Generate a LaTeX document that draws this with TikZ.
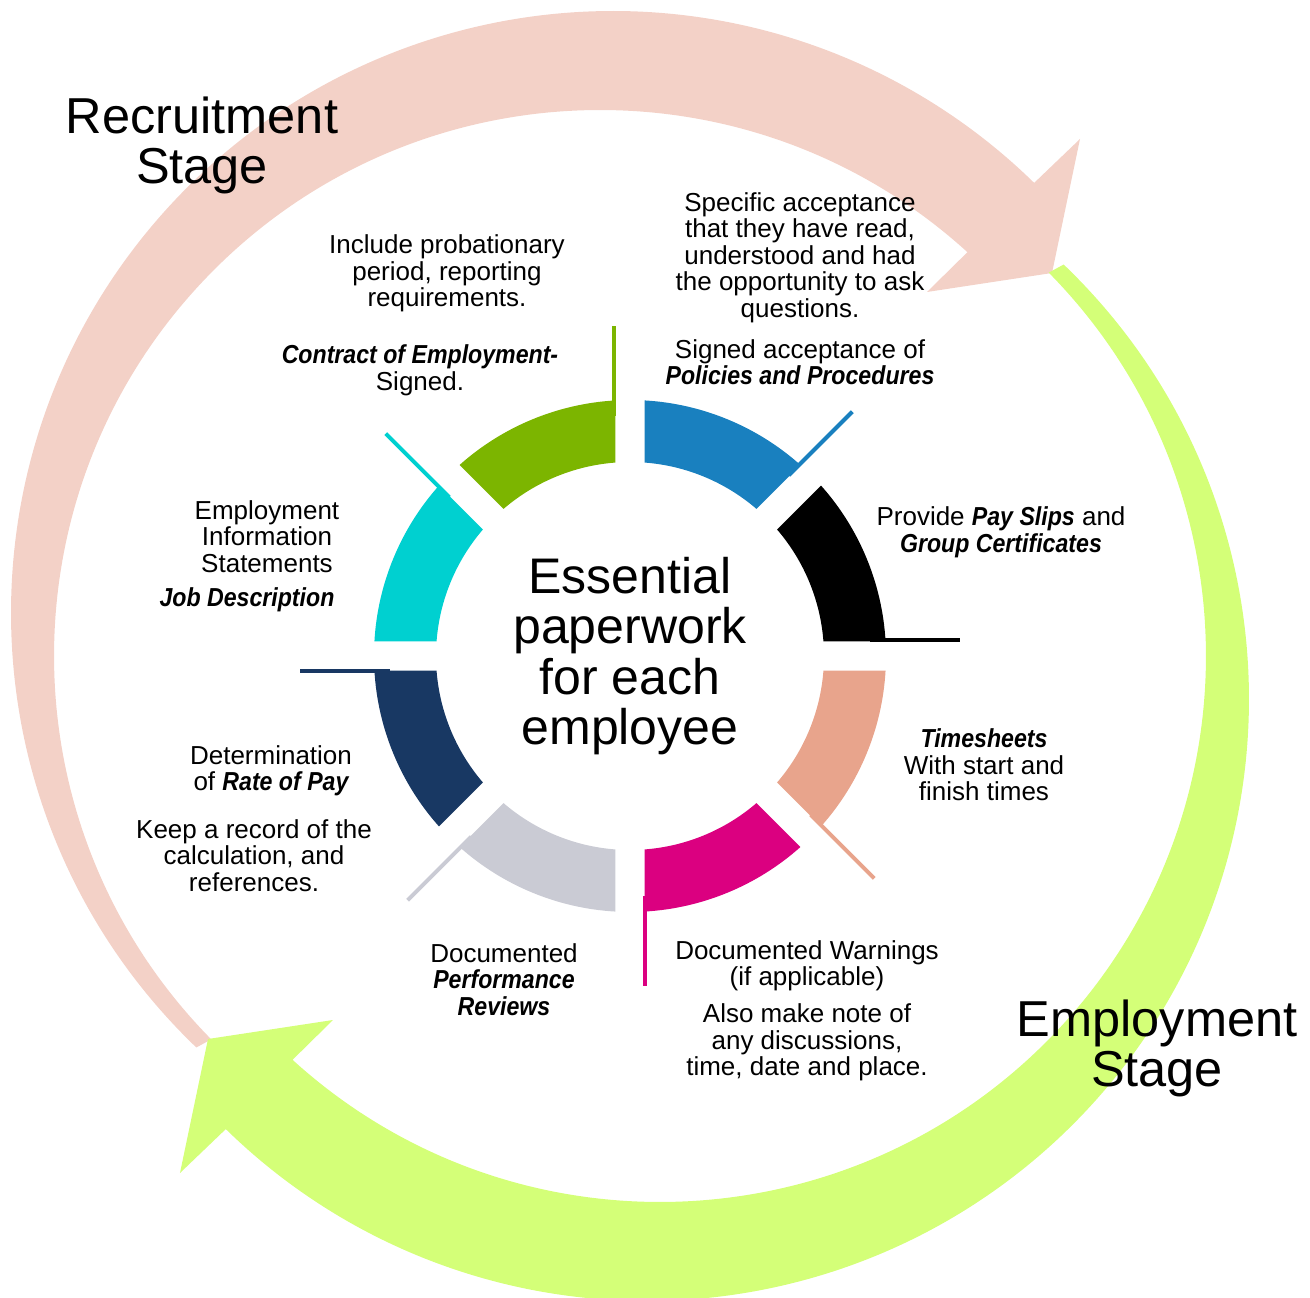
\documentclass[tikz,border=0pt]{standalone}
\usepackage{fontspec}
\setmainfont{Liberation Sans}
\newfontfamily\keyfont[FakeStretch=0.89]{Liberation Sans}
\newcommand\keyterm[1]{{\keyfont\bfseries\itshape #1}}
\usetikzlibrary{calc}
\definecolor{recband}{RGB}{243,209,199}
\definecolor{empband}{RGB}{212,255,120}
\definecolor{paysl}{RGB}{0,0,0}
\definecolor{polic}{RGB}{25,128,191}
\definecolor{contr}{RGB}{124,181,0}
\definecolor{jobd}{RGB}{0,208,208}
\definecolor{ratep}{RGB}{24,56,99}
\definecolor{perfr}{RGB}{202,203,212}
\definecolor{warns}{RGB}{219,0,128}
\definecolor{times}{RGB}{232,164,140}

\begin{document}
\begin{tikzpicture}[x=1pt, y=1pt,
       note/.style = {align=center, inner sep=0pt, font=\fontsize{26}{26.5}\selectfont},
      stage/.style = {align=center, inner sep=0pt, font=\fontsize{50.5}{50}\selectfont},
   tickline/.style = {line width=4pt}
                    ]
\clip (-630,-642) rectangle (680,656);
% stage arrows
\foreach \r/\c in {0/recband, 180/empband}{
  \begin{scope}[rotate=\r]
  \fill[\c] ($(-17,43)+(226.2:602)$) arc[start angle=226.2, end angle=45.6, radius=602]
     -- (450,517) -- (422,383) -- (297,364)
     -- ($(-30,0)+(47.7:546)$) arc[start angle=47.7, end angle=224.6, radius=546] -- cycle;
  \end{scope}
}
% ring of segments
\foreach \a/\c in {0/paysl, 45/polic, 90/contr, 135/jobd, 180/ratep, 225/perfr, 270/warns, 315/times}{
  \fill[\c] (\a+3.25:256) arc[start angle=\a+3.25, end angle=\a+41.75, radius=256]
     -- (\a+40.7:194) arc[start angle=\a+40.7, end angle=\a+4.3, radius=194] -- cycle;
  \draw[tickline, \c] ($(\a:240)+(\a+90:15.5)$) -- ($(\a:330)+(\a+90:15.5)$);
}
\node (essential) [align=center, inner sep=0pt, font=\fontsize{50}{50.5}\selectfont] at (0,0) {Essential\\paperwork\\for each\\employee};
\node (recstage) [stage] at (-428,511) {Recruitment\\Stage};
\node (empstage) [stage] at (527,-392) {Employment\\Stage};
\node (incl)     [note] at (-183,382.5) {Include probationary\\period, reporting\\requirements.};
\node (contract) [note] at (-210,285.5) {\keyterm{Contract of Employment-}\\Signed.};
\node (specific) [note] at (170,398.5) {Specific acceptance\\that they have read,\\understood and had\\the opportunity to ask\\questions.};
\node (policies) [note] at (170,294) {Signed acceptance of\\\keyterm{Policies and Procedures}};
\node (payslips) [note] at (371,123.5) {Provide \keyterm{Pay Slips} and\\\keyterm{Group Certificates}};
\node (timesh)   [note] at (354,-109) {\keyterm{Timesheets}\\With start and\\finish times};
\node (warnings) [note] at (177,-310) {Documented Warnings\\(if applicable)};
\node (notes)    [note] at (177,-386.5) {Also make note of\\any discussions,\\time, date and place.};
\node (perform)  [note] at (-126,-323.5) {Documented\\\keyterm{Performance}\\\keyterm{Reviews}};
\node (rate)     [note] at (-359,-115) {Determination\\of \keyterm{Rate of Pay}};
\node (record)   [note] at (-376,-199.5) {Keep a record of the\\calculation, and\\references.};
\node (info)     [note] at (-363,119.5) {Employment\\Information\\Statements};
\node (jobdesc)  [note] at (-383,56) {\keyterm{Job Description}};
\end{tikzpicture}
\end{document}
